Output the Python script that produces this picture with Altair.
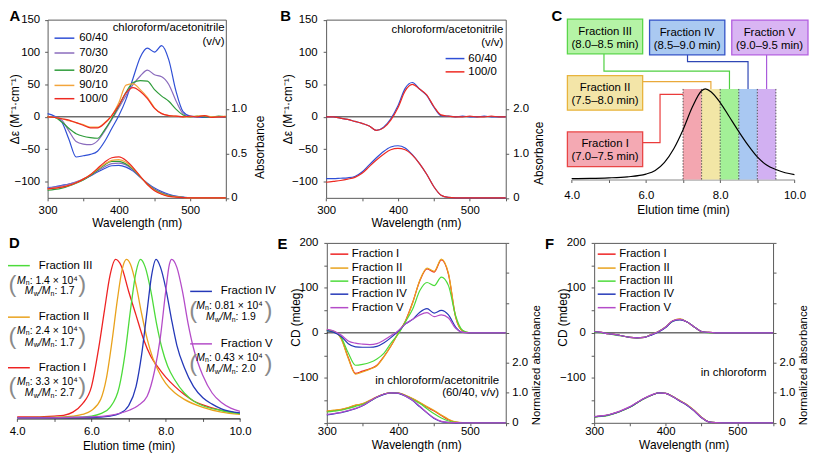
import altair as alt
import pandas as pd

FONT = "Liberation Sans"
W, H = 809, 450
AXC = "#5a5a5a"

# ------------------------------------------------------------------ DATA
WL = [300, 310, 320, 330, 340, 350, 360, 370, 380, 390, 400, 410, 420,
      430, 440, 450, 460, 470, 480, 490, 500, 510, 520, 530, 540, 550]

# Panel A  (chloroform/acetonitrile ratios)
A_SERIES = ["60/40", "70/30", "80/20", "90/10", "100/0"]
A_COLORS = ["#2f4fd6", "#8a6bbd", "#2e9c3a", "#f3a53c", "#ee2a22"]
A_CD_6040 = [5, 1, -8, -35, -62, -60, -58, -53, -38, -18, 2, 27, 60, 92, 106, 100, 110, 88, 40, 8, 1, 0, -1, 0, -1, 0]
A_CD_7030 = [0, 0, -5, -22, -38, -42, -43, -37, -22, -4, 14, 33, 50, 63, 72, 65, 62, 50, 25, 5, 0, 0, 1, 0, 0, 0]
A_CD_8020 = [0, -1, -8, -18, -26, -30, -32, -33, -20, -3, 17, 38, 53, 56, 55, 42, 32, 24, 12, 3, 0, 1, 0, 0, 1, 0]
A_CD_9010 = [0, -1, -3, -6, -9, -12, -16, -16, -9, 2, 22, 49, 51, 42, 30, 14, 5, 2, 1, 0, 0, 1, 2, 0, 0, 1]
A_CD_1000 = [0, -1, -3, -5, -9, -13, -17, -17, -10, 2, 18, 37, 45, 39, 28, 13, 5, 2, 1, 0, 1, 0, 2, -1, 0, 0]
A_ABS_6040 = [.115, .125, .14, .155, .175, .205, .245, .29, .33, .36, .365, .345, .30, .23, .165, .11, .07, .04, .02, .008, 0, 0, 0, 0, 0, 0]
A_ABS_7030 = [.11, .12, .135, .155, .18, .21, .25, .30, .35, .385, .39, .37, .31, .235, .16, .10, .06, .03, .015, .006, 0, 0, 0, 0, 0, 0]
A_ABS_8020 = [.085, .095, .11, .135, .165, .20, .25, .31, .37, .41, .41, .38, .32, .235, .155, .09, .05, .025, .012, .005, 0, 0, 0, 0, 0, 0]
A_ABS_9010 = [.10, .11, .12, .14, .17, .21, .26, .32, .38, .42, .43, .40, .33, .24, .15, .085, .045, .02, .01, .004, 0, 0, 0, 0, 0, 0]
A_ABS_1000 = [.10, .11, .12, .14, .17, .21, .26, .33, .40, .45, .46, .42, .34, .24, .15, .08, .04, .017, .008, .003, 0, 0, 0, 0, 0, 0]

# Panel B
B_SERIES = ["60/40", "100/0"]
B_COLORS = ["#2f4fd6", "#ee2a22"]
B_CD_6040 = [0, 0, -2, -4, -7, -10, -14, -21, -16, -3, 17, 44, 53, 43, 33, 15, 2, 1, 0, 1, 0, 0, 1, 0, 0, 0]
B_CD_1000 = [0, 0, -2, -4, -7, -10, -14, -21, -17, -5, 14, 40, 50, 43, 34, 16, 3, 1, 0, 0, 1, 0, 0, 1, 0, 0]
B_ABS_6040 = [.43, .43, .44, .45, .48, .58, .74, .90, 1.04, 1.14, 1.17, 1.12, .97, .77, .53, .25, .06, .01, 0, 0, 0, 0, 0, 0, 0, 0]
B_ABS_1000 = [.35, .37, .39, .42, .46, .55, .70, .85, .98, 1.08, 1.11, 1.08, .96, .77, .53, .25, .06, .01, 0, 0, 0, 0, 0, 0, 0, 0]

# Fractions (panels C-F)
FR = ["Fraction I", "Fraction II", "Fraction III", "Fraction IV", "Fraction V"]
FR_COLORS = ["#ee2222", "#e9a21c", "#4cdb3a", "#2438b8", "#b44cc8"]

E_CD_I = [6, 3, -12, -55, -90, -85, -80, -72, -52, -28, 0, 27, 68, 116, 142, 135, 162, 130, 35, 4, 0, 0, 0, 0, 0, 0]
E_CD_II = [6, 3, -13, -57, -92, -87, -81, -73, -53, -28, 0, 26, 67, 117, 144, 137, 164, 132, 36, 4, 0, 0, 0, 0, 0, 0]
E_CD_III = [5, 2, -10, -45, -72, -70, -66, -58, -45, -22, -2, 25, 53, 94, 112, 105, 124, 105, 38, 5, 0, 0, 0, 0, 0, 0]
E_CD_IV = [5, 1, -8, -24, -31, -32, -32, -30, -22, -10, 4, 20, 30, 46, 54, 44, 50, 40, 13, 1, 0, 0, 0, 0, 0, 0]
E_CD_V = [8, 4, -5, -18, -23, -25, -26, -24, -16, -6, 5, 20, 30, 40, 45, 36, 40, 33, 10, 1, 0, 0, 0, 0, 0, 0]
E_ABS_I = [.38, .41, .44, .50, .58, .63, .74, .86, .96, 1.0, .99, .91, .80, .67, .52, .39, .24, .10, .02, 0, 0, 0, 0, 0, 0, 0]
E_ABS_II = [.39, .42, .45, .51, .59, .64, .75, .87, .96, 1.0, .99, .92, .81, .68, .54, .41, .26, .12, .03, .005, 0, 0, 0, 0, 0, 0]
E_ABS_III = [.36, .39, .42, .48, .55, .61, .72, .85, .96, 1.0, .99, .90, .78, .64, .47, .30, .16, .06, .015, 0, 0, 0, 0, 0, 0, 0]
E_ABS_IV = [.26, .30, .34, .40, .47, .57, .71, .85, .95, 1.0, .98, .89, .74, .53, .33, .14, .04, .01, 0, 0, 0, 0, 0, 0, 0, 0]
E_ABS_V = [.28, .31, .35, .41, .48, .58, .72, .86, .96, 1.0, .99, .89, .75, .55, .34, .16, .05, .015, .005, 0, 0, 0, 0, 0, 0, 0]

F_CD_I = [3, 1, -2, -4, -7, -10, -11, -10, -4, 3, 13, 27, 30, 24, 13, 3, 1, 0, 0, 0, 0, 0, 0, 0, 0, 0]
F_CD_II = [3, 1, -2, -4, -7, -10, -11, -10, -4, 3, 13, 27, 31, 24, 13, 3, 1, 0, 0, 0, 0, 0, 0, 0, 0, 0]
F_CD_III = [2, 0, -2, -5, -7, -10, -11, -10, -4, 3, 13, 26, 30, 24, 13, 3, 0, 0, 0, 0, 0, 0, 0, 0, 0, 0]
F_CD_IV = [3, 1, -2, -4, -7, -10, -11, -10, -5, 2, 12, 26, 29, 24, 13, 3, 1, 0, 0, 0, 0, 0, 0, 0, 0, 0]
F_CD_V = [3, 1, -2, -4, -7, -10, -11, -10, -4, 3, 13, 27, 30, 24, 13, 3, 1, 0, 0, 0, 0, 0, 0, 0, 0, 0]
F_ABS_I = [.20, .22, .26, .33, .42, .53, .67, .81, .92, 1.0, .98, .87, .73, .59, .40, .18, .03, .005, 0, 0, 0, 0, 0, 0, 0, 0]
F_ABS_II = [.20, .22, .26, .33, .42, .53, .67, .81, .92, 1.0, .98, .88, .74, .60, .41, .19, .035, .005, 0, 0, 0, 0, 0, 0, 0, 0]
F_ABS_III = [.19, .21, .25, .32, .41, .52, .66, .80, .92, 1.0, .98, .87, .73, .59, .40, .18, .03, .005, 0, 0, 0, 0, 0, 0, 0, 0]
F_ABS_IV = [.20, .22, .26, .33, .42, .53, .67, .81, .92, 1.0, .98, .87, .72, .58, .39, .17, .03, .005, 0, 0, 0, 0, 0, 0, 0, 0]
F_ABS_V = [.21, .23, .27, .34, .43, .54, .68, .82, .93, 1.0, .98, .87, .73, .59, .40, .18, .03, .005, 0, 0, 0, 0, 0, 0, 0, 0]

# Panel C  (SEC trace and collected fractions)
C_T = [4.0, 4.5, 5.0, 5.5, 6.0, 6.25, 6.5, 6.75, 7.0, 7.25, 7.5, 7.6, 7.75, 8.0, 8.25, 8.5, 8.75, 9.0, 9.25, 9.5, 9.75, 10.0]
C_V = [0.01, 0.012, 0.018, 0.03, 0.06, 0.10, 0.19, 0.34, 0.55, 0.80, 0.98, 1.0, 0.97, 0.85, 0.69, 0.53, 0.38, 0.25, 0.16, 0.11, 0.075, 0.055]
C_BAND_START = [7.0, 7.5, 8.0, 8.5, 9.0]
C_BAND_END = [7.5, 8.0, 8.5, 9.0, 9.5]
C_BAND_EDGES = [7.0, 7.5, 8.0, 8.5, 9.0, 9.5]
C_BAND_COLORS = ["#f3a6b0", "#f2e6a6", "#a3f097", "#a9c8f2", "#d2b0f2"]
C_BOX_FILL = ["#f4a9b3", "#f3e5a8", "#b5f3a6", "#aac9f1", "#d9b5f3"]
C_BOX_EDGE = ["#e94545", "#e8b43c", "#5ad64a", "#3352c6", "#b35fe0"]
C_LINK_COLORS = ["#ea3b3b", "#e9a93a", "#4fd040", "#2f47b5", "#a95bdb"]
C_RANGES = ["(7.0–7.5 min)", "(7.5–8.0 min)", "(8.0–8.5 min)", "(8.5–9.0 min)", "(9.0–9.5 min)"]

# Panel D  (SEC traces of fractions)
D_T_I = [4.0, 4.5, 5.0, 5.25, 5.5, 5.75, 6.0, 6.2, 6.35, 6.5, 6.65, 6.8, 7.0, 7.2, 7.4, 7.6, 7.8, 8.0, 8.25, 8.5, 8.75, 9.0, 9.5, 10.0]
D_V_I = [0.01, 0.01, 0.015, 0.02, 0.04, 0.09, 0.2, 0.45, 0.68, 0.9, 1.0, 0.96, 0.80, 0.65, 0.50, 0.39, 0.32, 0.26, 0.20, 0.15, 0.11, 0.085, 0.05, 0.03]
D_T_II = [4.0, 5.0, 5.5, 5.75, 6.0, 6.25, 6.4, 6.55, 6.7, 6.82, 6.94, 7.05, 7.2, 7.35, 7.5, 7.65, 7.8, 8.0, 8.25, 8.5, 9.0, 9.5, 10.0]
D_V_II = [0.005, 0.007, 0.015, 0.025, 0.05, 0.12, 0.25, 0.48, 0.75, 0.93, 1.0, 0.97, 0.84, 0.66, 0.50, 0.38, 0.30, 0.22, 0.16, 0.12, 0.07, 0.04, 0.025]
D_T_III = [4.0, 5.5, 6.0, 6.25, 6.5, 6.75, 6.9, 7.05, 7.2, 7.32, 7.45, 7.6, 7.75, 7.9, 8.05, 8.25, 8.5, 8.75, 9.0, 9.5, 10.0]
D_V_III = [0.005, 0.007, 0.015, 0.03, 0.07, 0.2, 0.4, 0.68, 0.92, 1.0, 0.95, 0.8, 0.6, 0.44, 0.33, 0.24, 0.16, 0.11, 0.08, 0.05, 0.03]
D_T_IV = [4.0, 6.0, 6.5, 6.75, 7.0, 7.2, 7.35, 7.5, 7.62, 7.74, 7.86, 8.0, 8.15, 8.3, 8.5, 8.75, 9.0, 9.25, 9.5, 10.0]
D_V_IV = [0.003, 0.006, 0.015, 0.03, 0.08, 0.2, 0.4, 0.68, 0.9, 1.0, 0.95, 0.82, 0.63, 0.46, 0.32, 0.2, 0.13, 0.09, 0.06, 0.035]
D_T_V = [4.0, 6.0, 6.5, 7.0, 7.25, 7.5, 7.7, 7.85, 8.0, 8.1, 8.16, 8.3, 8.45, 8.6, 8.75, 9.0, 9.25, 9.5, 9.75, 10.0]
D_V_V = [0.003, 0.01, 0.02, 0.05, 0.08, 0.14, 0.3, 0.5, 0.8, 0.97, 1.0, 0.95, 0.8, 0.6, 0.44, 0.27, 0.16, 0.1, 0.065, 0.045]
D_LEG_ORDER = ["Fraction III", "Fraction II", "Fraction I", "Fraction IV", "Fraction V"]
D_MN = ["1.4 × 10⁴", "2.4 × 10⁴", "3.3 × 10⁴", "0.81 × 10⁴", "0.43 × 10⁴"]
D_PDI = ["1.7", "1.7", "2.7", "1.9", "2.0"]

# ------------------------------------------------------------------ LAYOUT (pixels)
PA = (40, 220, 189.5, 9.5)
PB = (321.3, 502.7, 189.5, 9.5)
PC = (569.3, 794.3, 171, 79.5)
PD = (9.3, 234.3, 412.3, 251.7)
PE = (322, 502.7, 416.7, 235)
PF = (592, 772.7, 416.7, 235)


def sc(dom, rng):
    return alt.Scale(domain=dom, range=rng, nice=False, zero=False)


def ax(orient, pos, **kw):
    off = {"bottom": pos - H, "top": -pos, "left": -pos, "right": pos - W}[orient]
    base = dict(orient=orient, offset=off, grid=False, domainColor=AXC, tickColor=AXC,
                tickSize=3, labelFont=FONT, labelFontSize=11.5, labelColor="black",
                titleFont=FONT, titleFontSize=12, titleFontWeight="normal", titleColor="black",
                labelFlush=False, labelOverlap=False, title=None)
    base.update(kw)
    return alt.Axis(**base)


def frame(orient, pos):
    return ax(orient, pos, labels=False, ticks=False)


def long_df(xs, names, lists):
    rows = []
    for n, vals in zip(names, lists):
        for xv, vv in zip(xs, vals):
            rows.append({"x": xv, "v": vv, "s": n})
    return pd.DataFrame(rows)


def long_df2(names, xlists, vlists):
    rows = []
    for n, xl, vl in zip(names, xlists, vlists):
        for xv, vv in zip(xl, vl):
            rows.append({"x": xv, "v": vv, "s": n})
    return pd.DataFrame(rows)


def lines(df, xs, ys, dom, cols, xaxis=None, yaxis=None, sw=1.2, interp="monotone"):
    return alt.Chart(df).mark_line(strokeWidth=sw, interpolate=interp).encode(
        x=alt.X("x:Q", scale=xs, axis=xaxis),
        y=alt.Y("v:Q", scale=ys, axis=yaxis),
        color=alt.Color("s:N", scale=alt.Scale(domain=dom, range=cols), legend=None),
    )


def txt(df, xs, ys, **mk):
    base = dict(font=FONT, fontSize=11.5, color="black", align="left", baseline="middle")
    base.update(mk)
    return alt.Chart(df).mark_text(**base).encode(
        x=alt.X("x:Q", scale=xs, axis=None),
        y=alt.Y("y:Q", scale=ys, axis=None),
        text="t:N")


def const_txt(df, xs, ys, **mk):
    base = dict(font=FONT, fontSize=10.5, color="black", align="left", baseline="middle")
    base.update(mk)
    return alt.Chart(df).mark_text(**base).encode(
        x=alt.X("x:Q", scale=xs, axis=None),
        y=alt.Y("y:Q", scale=ys, axis=None))


def seg(df, xs, ys, dom, cols, sw=1.5):
    return alt.Chart(df).mark_rule(strokeWidth=sw).encode(
        x=alt.X("x:Q", scale=xs, axis=None), x2="x2:Q",
        y=alt.Y("y:Q", scale=ys, axis=None),
        color=alt.Color("s:N", scale=alt.Scale(domain=dom, range=cols), legend=None))


def zero_rule(xs, ys, x0, x1):
    return alt.Chart(pd.DataFrame({"x": [x0], "x2": [x1], "y": [0]})).mark_rule(
        color="#222222", strokeWidth=1).encode(
        x=alt.X("x:Q", scale=xs, axis=None), x2="x2:Q",
        y=alt.Y("y:Q", scale=ys, axis=None))


def letter(ch, x, y, xs, ys):
    return txt(pd.DataFrame({"x": [x], "y": [y], "t": [ch]}), xs, ys,
               fontSize=15, fontWeight="bold", baseline="alphabetic", font="Liberation Sans")


WL_TICKS = [300, 350, 400, 450, 500, 550]
WL_LAB = "datum.value % 100 == 0 && datum.value < 550 ? datum.label : ''"
T_TICKS = [4, 5, 6, 7, 8, 9, 10]
T_LAB = "datum.value % 2 == 0 ? format(datum.value, '.1f') : ''"

layers = []

# ------------------------------------------------------------------ PANEL A
xA = sc([300, 550], [PA[0], PA[1]])
yAc = sc([-125, 150], [PA[2], PA[3]])
yAa = sc([0, 2], [PA[2], PA[3]])
dfAc = long_df(WL, A_SERIES, [A_CD_6040, A_CD_7030, A_CD_8020, A_CD_9010, A_CD_1000])
dfAa = long_df(WL, A_SERIES, [A_ABS_6040, A_ABS_7030, A_ABS_8020, A_ABS_9010, A_ABS_1000])
layers += [
    zero_rule(xA, yAc, 300, 550),
    lines(dfAa, xA, yAa, A_SERIES, A_COLORS,
          xaxis=frame("top", PA[3]),
          yaxis=ax("right", PA[1], values=[0, 0.5, 1.0], labelPadding=2,
                   labelExpr="datum.value == 0 ? '0' : format(datum.value, '.1f')",
                   title="Absorbance", titleX=33.7, titleY=138, titleAngle=270,
                   titleBaseline="middle")),
    lines(dfAc, xA, yAc, A_SERIES, A_COLORS,
          xaxis=ax("bottom", PA[2], values=WL_TICKS, labelExpr=WL_LAB, labelPadding=4,
                   title="Wavelength (nm)", titleY=25, titleBaseline="middle"),
          yaxis=ax("left", PA[0], values=[-100, -50, 0, 50, 100, 150], labelPadding=5,
                   title="Δε (M⁻¹·cm⁻¹)", titleX=-33.5, titleY=99.5, titleAngle=270,
                   titleBaseline="middle")),
    seg(pd.DataFrame({"x": [309.7] * 5, "x2": [337.5] * 5, "y": [121.4, 98.5, 72, 48.5, 28],
                      "s": A_SERIES}), xA, yAc, A_SERIES, A_COLORS),
    txt(pd.DataFrame({"x": [344.4] * 5, "y": [121.4, 98.5, 72, 48.5, 28], "t": A_SERIES}), xA, yAc),
    txt(pd.DataFrame({"x": [548.2, 548.2], "y": [136.8, 115.3],
                      "t": ["chloroform/acetonitrile", "(v/v)"]}), xA, yAc, align="right"),
    letter("A", 246.5, 148.5, xA, yAc),
]

# ------------------------------------------------------------------ PANEL B
xB = sc([300, 550], [PB[0], PB[1]])
yBc = sc([-125, 150], [PB[2], PB[3]])
yBa = sc([0, 4], [PB[2], PB[3]])
dfBc = long_df(WL, B_SERIES, [B_CD_6040, B_CD_1000])
dfBa = long_df(WL, B_SERIES, [B_ABS_6040, B_ABS_1000])
layers += [
    zero_rule(xB, yBc, 300, 550),
    lines(dfBa, xB, yBa, B_SERIES, B_COLORS,
          xaxis=frame("top", PB[3]),
          yaxis=ax("right", PB[1], values=[0, 1, 2], labelPadding=4,
                   labelExpr="datum.value == 0 ? '0' : format(datum.value, '.1f')",
                   title="Absorbance", titleX=33, titleY=144, titleAngle=270,
                   titleBaseline="middle")),
    lines(dfBc, xB, yBc, B_SERIES, B_COLORS,
          xaxis=ax("bottom", PB[2], values=WL_TICKS, labelExpr=WL_LAB, labelPadding=4,
                   title="Wavelength (nm)", titleY=25, titleBaseline="middle"),
          yaxis=ax("left", PB[0], values=[-100, -50, 0, 50, 100, 150], labelPadding=6,
                   title="Δε (M⁻¹·cm⁻¹)", titleX=-39.3, titleY=99.5, titleAngle=270,
                   titleBaseline="middle")),
    seg(pd.DataFrame({"x": [466.3] * 2, "x2": [492.5] * 2, "y": [89.9, 69.4], "s": B_SERIES}),
        xB, yBc, B_SERIES, B_COLORS),
    txt(pd.DataFrame({"x": [537.6] * 2, "y": [89.9, 69.4], "t": B_SERIES}), xB, yBc, align="right"),
    txt(pd.DataFrame({"x": [546.7, 546.7], "y": [134, 113.8],
                      "t": ["chloroform/acetonitrile", "(v/v)"]}), xB, yBc, align="right"),
    letter("B", 236.2, 148.5, xB, yBc),
]

# ------------------------------------------------------------------ PANEL C
xC = sc([4, 10], [PC[0], PC[1]])
yC = sc([0, 1], [PC[2], PC[3]])
bands = pd.DataFrame({"x": C_BAND_START, "x2": C_BAND_END, "y": [0] * 5, "y2": [1.0] * 5, "s": FR})
boxes = pd.DataFrame({
    "x": [3.885, 3.885, 3.885, 6.098, 8.312],
    "x2": [5.912, 5.912, 5.912, 8.125, 10.365],
    "y": [0.142, 0.765, 1.388, 1.377, 1.377],
    "y2": [0.525, 1.148, 1.770, 1.760, 1.760],
    "s": FR})
links = pd.DataFrame({
    "id": ["Fraction I"] * 4 + ["Fraction II"] * 3 + ["Fraction III"] * 4 + ["Fraction IV"] * 4 + ["Fraction V"] * 2,
    "k": [0, 1, 2, 3, 0, 1, 2, 0, 1, 2, 3, 0, 1, 2, 3, 0, 1],
    "x": [5.912, 6.38, 6.38, 7.0, 5.912, 7.75, 7.75, 4.87, 4.87, 8.25, 8.25, 7.12, 7.12, 8.75, 8.75, 9.25, 9.25],
    "v": [0.407, 0.407, 0.941, 0.941, 1.080, 1.080, 1.0, 1.388, 1.196, 1.196, 1.0, 1.377, 1.302, 1.302, 1.0, 1.377, 1.0]})
box_txt = pd.DataFrame({
    "x": [4.90, 4.90, 4.90, 7.11, 9.33] * 2,
    "y": [0.397, 1.011, 1.628, 1.617, 1.617, 0.251, 0.869, 1.486, 1.475, 1.475],
    "t": FR + C_RANGES})
layers += [
    alt.Chart(bands).mark_rect().encode(
        x=alt.X("x:Q", scale=xC, axis=None), x2="x2:Q",
        y=alt.Y("y:Q", scale=yC, axis=None), y2="y2:Q",
        fill=alt.Fill("s:N", scale=alt.Scale(domain=FR, range=C_BAND_COLORS), legend=None)),
    alt.Chart(pd.DataFrame({"x": C_BAND_EDGES, "y": [0] * 6, "y2": [1.0] * 6})).mark_rule(
        color="#333333", strokeWidth=0.8, strokeDash=[1.5, 1.5]).encode(
        x=alt.X("x:Q", scale=xC, axis=None),
        y=alt.Y("y:Q", scale=yC, axis=None), y2="y2:Q"),
    alt.Chart(pd.DataFrame({"x": C_T, "v": C_V})).mark_line(
        color="black", strokeWidth=1.2, interpolate="monotone").encode(
        x=alt.X("x:Q", scale=xC,
                axis=ax("bottom", PC[2], values=T_TICKS, labelExpr=T_LAB, labelPadding=7,
                        domainColor="#888888", title="Elution time (min)", titleY=30,
                        titleBaseline="middle")),
        y=alt.Y("v:Q", scale=yC, axis=None)),
    alt.Chart(links).mark_line(strokeWidth=1.2).encode(
        x=alt.X("x:Q", scale=xC, axis=None),
        y=alt.Y("v:Q", scale=yC, axis=None),
        order="k:Q",
        color=alt.Color("id:N", scale=alt.Scale(domain=FR, range=C_LINK_COLORS), legend=None)),
    alt.Chart(boxes).mark_rect(strokeWidth=1.3).encode(
        x=alt.X("x:Q", scale=xC, axis=None), x2="x2:Q",
        y=alt.Y("y:Q", scale=yC, axis=None), y2="y2:Q",
        fill=alt.Fill("s:N", scale=alt.Scale(domain=FR, range=C_BOX_FILL), legend=None),
        stroke=alt.Stroke("s:N", scale=alt.Scale(domain=FR, range=C_BOX_EDGE), legend=None)),
    txt(box_txt, xC, yC, align="center", fontSize=11.5),
    letter("C", 3.459, 1.749, xC, yC),
]

# ------------------------------------------------------------------ PANEL D
xD = sc([4, 10], [PD[0], PD[1]])
yD = sc([0, 1], [PD[2], PD[3]])
dfD = long_df2(FR, [D_T_I, D_T_II, D_T_III, D_T_IV, D_T_V], [D_V_I, D_V_II, D_V_III, D_V_IV, D_V_V])
leg_y = [0.961, 0.637, 0.319, 0.799, 0.469]
mn_y = [0.867, 0.550, 0.232, 0.709, 0.382]
pdi_y = [0.799, 0.475, 0.158, 0.637, 0.310]
par_y = [0.836, 0.513, 0.195, 0.674, 0.344]
mn_x = [3.992] * 3 + [8.819] * 2
pdi_x = [4.205] * 3 + [9.085] * 2
dmn = pd.DataFrame({"x": mn_x, "y": mn_y, "t": [": " + s for s in D_MN]})
dpdi = pd.DataFrame({"x": pdi_x, "y": pdi_y, "t": [": " + s for s in D_PDI]})
layers += [
    lines(dfD, xD, yD, FR, FR_COLORS, sw=1.3,
          xaxis=ax("bottom", PD[2], values=T_TICKS, labelExpr=T_LAB, labelPadding=4,
                   domainColor="#222222", domainWidth=1.3,
                   title="Elution time (min)", titleY=27, titleBaseline="middle")),
    seg(pd.DataFrame({"x": [3.752] * 3 + [8.659] * 2, "x2": [4.339] * 3 + [9.245] * 2,
                      "y": leg_y, "s": D_LEG_ORDER}), xD, yD, FR, FR_COLORS),
    txt(pd.DataFrame({"x": [4.579] * 3 + [9.485] * 2, "y": leg_y, "t": D_LEG_ORDER}), xD, yD,
        fontSize=11.5),
    # Mn line
    const_txt(dmn, xD, yD, text="M", fontStyle="italic"),
    const_txt(dmn, xD, yD, text="n", fontSize=7, dx=8.9, dy=2.5),
    txt(dmn, xD, yD, fontSize=10.5, dx=12.9),
    # Mw/Mn line
    const_txt(dpdi, xD, yD, text="M", fontStyle="italic"),
    const_txt(dpdi, xD, yD, text="w", fontSize=7, dx=8.9, dy=2.5),
    const_txt(dpdi, xD, yD, text="/", fontStyle="italic", dx=14.1),
    const_txt(dpdi, xD, yD, text="M", fontStyle="italic", dx=17.1),
    const_txt(dpdi, xD, yD, text="n", fontSize=7, dx=26.0, dy=2.5),
    txt(dpdi, xD, yD, fontSize=10.5, dx=29.9),
    # parentheses
    const_txt(pd.DataFrame({"x": [3.872] * 3 + [8.739] * 2, "y": par_y}), xD, yD,
              text="(", fontSize=24, color="#8a8a8a", align="center"),
    const_txt(pd.DataFrame({"x": [5.752] * 3 + [10.765] * 2, "y": par_y}), xD, yD,
              text=")", fontSize=24, color="#8a8a8a", align="center"),
    letter("D", 3.779, 1.073, xD, yD),
]

# ------------------------------------------------------------------ PANELS E, F
CD_TICKS = [-200, -150, -100, -50, 0, 50, 100, 150, 200]
CD_LAB = "datum.value % 100 == 0 && datum.value > -200 ? datum.label : ''"
NA_LAB = "datum.value == 0 ? '0' : (datum.value <= 2 ? format(datum.value, '.1f') : '')"
leg_rows = [175, 144, 115, 86, 56]


def cd_panel(P, cd_lists, abs_lists, letter_ch, note_lines, note_y, right_tx):
    xs = sc([300, 550], [P[0], P[1]])
    yc = sc([-200, 200], [P[2], P[3]])
    ya = sc([0, 6], [P[2], P[3]])
    dfc = long_df(WL, FR, cd_lists)
    dfa = long_df(WL, FR, abs_lists)
    return [
        zero_rule(xs, yc, 300, 550),
        lines(dfa, xs, ya, FR, FR_COLORS,
              xaxis=frame("top", P[3]),
              yaxis=ax("right", P[1], values=[0, 1, 2, 3, 4, 5, 6], labelPadding=3,
                       labelExpr=NA_LAB, title="Normalized absorbance", titleFontSize=11.5,
                       titleX=right_tx, titleY=358, titleAngle=270, titleBaseline="middle")),
        lines(dfc, xs, yc, FR, FR_COLORS,
              xaxis=ax("bottom", P[2], values=WL_TICKS, labelExpr=WL_LAB, labelPadding=0,
                       title="Wavelength (nm)", titleY=22, titleBaseline="middle"),
              yaxis=ax("left", P[0], values=CD_TICKS, labelExpr=CD_LAB, labelPadding=6,
                       title="CD (mdeg)", titleX=-31.7, titleY=310, titleAngle=270,
                       titleBaseline="middle")),
        seg(pd.DataFrame({"x": [305] * 5, "x2": [330] * 5, "y": leg_rows, "s": FR}),
            xs, yc, FR, FR_COLORS),
        txt(pd.DataFrame({"x": [335] * 5, "y": leg_rows, "t": FR}), xs, yc, fontSize=11.5),
        txt(pd.DataFrame({"x": [540.8] * len(note_lines), "y": note_y, "t": note_lines}),
            xs, yc, align="right", fontSize=11.5),
        letter(letter_ch, 231.2, 187.3, xs, yc),
    ]


layers += cd_panel(PE, [E_CD_I, E_CD_II, E_CD_III, E_CD_IV, E_CD_V],
                   [E_ABS_I, E_ABS_II, E_ABS_III, E_ABS_IV, E_ABS_V], "E",
                   ["in chloroform/acetonitrile", "(60/40, v/v)"], [-108, -134], 31)
layers += cd_panel(PF, [F_CD_I, F_CD_II, F_CD_III, F_CD_IV, F_CD_V],
                   [F_ABS_I, F_ABS_II, F_ABS_III, F_ABS_IV, F_ABS_V], "F",
                   ["in chloroform"], [-88.6], 31)

chart = alt.layer(*layers).resolve_scale(
    x="independent", y="independent", color="independent",
    fill="independent", stroke="independent"
).properties(
    width=W, height=H, padding=0, autosize=alt.AutoSizeParams(type="none")
).configure_view(stroke=None)

chart.save("out.html", embed_options={"renderer": "svg", "actions": False})
